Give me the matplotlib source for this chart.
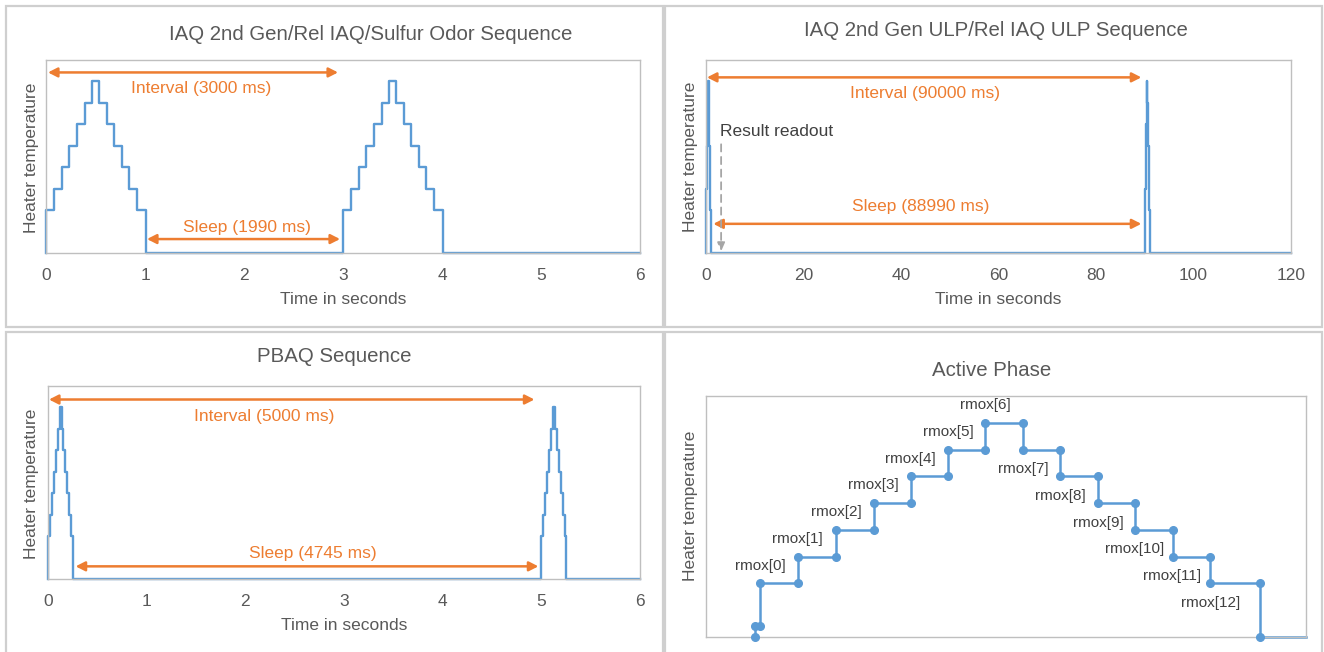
import matplotlib
matplotlib.use('Agg')
import matplotlib.pyplot as plt
from matplotlib.patches import Rectangle

plt.rcParams['font.family'] = ['Liberation Sans', 'DejaVu Sans']

# ---------------- data ----------------
seq_levels = [2, 3, 4, 5, 6, 7, 8, 7, 6, 5, 4, 3, 2]

iaq_edges_s = [0.0, 0.08, 0.16, 0.235, 0.31, 0.39, 0.465, 0.54, 0.615, 0.69, 0.77, 0.84, 0.915, 1.01]
iaq_cycle_starts_s = [0, 3]
iaq_xmax = 6
iaq_xticks = [0, 1, 2, 3, 4, 5, 6]

ulp_cycle_starts_s = [0, 90]
ulp_xmax = 120
ulp_xticks = [0, 20, 40, 60, 80, 100, 120]

pbaq_edges_s = [0.0, 0.02, 0.039, 0.059, 0.078, 0.098, 0.118, 0.137, 0.157, 0.176, 0.196, 0.216, 0.235, 0.255]
pbaq_cycle_starts_s = [0, 5]
pbaq_xmax = 6
pbaq_xticks = [0, 1, 2, 3, 4, 5, 6]

active_ramp_x = [13.2, 14.5]
active_ramp_level = 0.42
active_edges = [14.5, 24.5, 34.7, 44.7, 54.6, 64.6, 74.5, 84.5, 94.5, 104.5, 114.4, 124.4, 134.5, 147.6]
active_xmax = 160
rmox_labels = ['rmox[%d]' % i for i in range(13)]

titles = ['IAQ 2nd Gen/Rel IAQ/Sulfur Odor Sequence', 'IAQ 2nd Gen ULP/Rel IAQ ULP Sequence',
          'PBAQ Sequence', 'Active Phase']

BLUE = '#5B9BD5'
ORANGE = '#ED7D31'
TXT = '#595959'
BOX = '#BFBFBF'
PANEL = '#CFCFCF'

W, H = 1324, 652
fig = plt.figure(figsize=(W / 100, H / 100), dpi=100)


def ax_at(x0, y0, x1, y1):
    return fig.add_axes([x0 / W, 1 - y1 / H, (x1 - x0) / W, (y1 - y0) / H])


def panel(x0, y0, x1, y1):
    fig.add_artist(Rectangle((x0 / W, 1 - y1 / H), (x1 - x0) / W, (y1 - y0) / H,
                             transform=fig.transFigure, fill=False, ec=PANEL, lw=1.6))


def ftext(x, y, s, **kw):
    kw.setdefault('color', TXT)
    kw.setdefault('ha', 'center')
    kw.setdefault('va', 'center')
    fig.text(x / W, 1 - y / H, s, **kw)


def trace(edges, starts, xmax):
    xs, ys = [], []
    for t0 in starts:
        xs.append(t0 + edges[0]); ys.append(0)
        for i, lv in enumerate(seq_levels):
            xs += [t0 + edges[i], t0 + edges[i + 1]]
            ys += [lv, lv]
        xs.append(t0 + edges[-1]); ys.append(0)
    xs.append(xmax); ys.append(0)
    return xs, ys


def style(ax, xmax, xticks):
    ax.set_xlim(0, xmax)
    ax.set_ylim(0, 9)
    ax.set_yticks([])
    if xticks is None:
        ax.set_xticks([])
    else:
        ax.set_xticks(xticks)
        ax.tick_params(axis='x', length=0, pad=10.5, labelsize=12.5, labelcolor=TXT)
    for s in ax.spines.values():
        s.set_color(BOX)
        s.set_linewidth(1.0)


def darrow(ax, x0, x1, y):
    ax.annotate('', xy=(x1, y), xytext=(x0, y),
                arrowprops=dict(arrowstyle='<|-|>,head_length=0.55,head_width=0.28',
                                color=ORANGE, lw=1.8, shrinkA=0, shrinkB=0))


# panel frames
panel(6, 6, 663, 327)
panel(665, 6, 1322, 327)
panel(6, 332, 663, 670)
panel(665, 332, 1322, 670)

# ---------- panel 1 ----------
ax1 = ax_at(46, 60, 640, 253)
x, y = trace(iaq_edges_s, iaq_cycle_starts_s, iaq_xmax)
ax1.plot(x, y, color=BLUE, lw=1.7, clip_on=False)
style(ax1, iaq_xmax, iaq_xticks)
darrow(ax1, 0.02, 2.95, 8.42)
darrow(ax1, 1.02, 2.97, 0.65)
ax1.text(1.57, 7.68, 'Interval (3000 ms)', color=ORANGE, fontsize=12.5, ha='center', va='center')
ax1.text(2.03, 1.19, 'Sleep (1990 ms)', color=ORANGE, fontsize=12.5, ha='center', va='center')
ftext(371, 35, titles[0], fontsize=14.7)
ftext(343, 299, 'Time in seconds', fontsize=12.5)
ftext(32, 158, 'Heater temperature', fontsize=12.5, rotation=90)

# ---------- panel 2 ----------
ax2 = ax_at(706, 60, 1291, 253)
x, y = trace(iaq_edges_s, ulp_cycle_starts_s, ulp_xmax)
ax2.plot(x, y, color=BLUE, lw=1.7, clip_on=False)
style(ax2, ulp_xmax, ulp_xticks)
darrow(ax2, 0.2, 89.3, 8.19)
darrow(ax2, 1.5, 89.3, 1.36)
ax2.text(45, 7.45, 'Interval (90000 ms)', color=ORANGE, fontsize=12.5, ha='center', va='center')
ax2.text(44, 2.16, 'Sleep (88990 ms)', color=ORANGE, fontsize=12.5, ha='center', va='center')
ax2.text(2.8, 5.67, 'Result readout', color='#404040', fontsize=12.5, ha='left', va='center')
ax2.annotate('', xy=(3.1, 0.08), xytext=(3.1, 5.07),
             arrowprops=dict(arrowstyle='-|>,head_length=0.5,head_width=0.22', color='#A6A6A6',
                             lw=1.3, ls=(0, (4, 3)), shrinkA=0, shrinkB=0))
ftext(996, 30, titles[1], fontsize=14.7)
ftext(998, 299, 'Time in seconds', fontsize=12.5)
ftext(691, 157, 'Heater temperature', fontsize=12.5, rotation=90)

# ---------- panel 3 ----------
ax3 = ax_at(48, 386, 640, 579)
x, y = trace(pbaq_edges_s, pbaq_cycle_starts_s, pbaq_xmax)
ax3.plot(x, y, color=BLUE, lw=1.7, clip_on=False)
style(ax3, pbaq_xmax, pbaq_xticks)
darrow(ax3, 0.01, 4.93, 8.37)
darrow(ax3, 0.28, 4.97, 0.59)
ax3.text(2.19, 7.58, 'Interval (5000 ms)', color=ORANGE, fontsize=12.5, ha='center', va='center')
ax3.text(2.68, 1.21, 'Sleep (4745 ms)', color=ORANGE, fontsize=12.5, ha='center', va='center')
ftext(334, 356, titles[2], fontsize=14.7)
ftext(344, 626, 'Time in seconds', fontsize=12.5)
ftext(32, 484, 'Heater temperature', fontsize=12.5, rotation=90)

# ---------- panel 4 ----------
ax4 = ax_at(706, 396, 1306, 637)
px = [active_ramp_x[0], active_ramp_x[0], active_ramp_x[1]]
py = [0, active_ramp_level, active_ramp_level]
for i, lv in enumerate(seq_levels):
    px += [active_edges[i], active_edges[i + 1]]
    py += [lv, lv]
px.append(active_edges[-1]); py.append(0)
ax4.plot(px + [active_xmax], py + [0], color=BLUE, lw=1.8, clip_on=False)
ax4.plot(px, py, ls='none', marker='o', ms=5.5, color=BLUE, clip_on=False, zorder=3)
for i, lab in enumerate(rmox_labels):
    if seq_levels[i] >= (seq_levels[i - 1] if i > 0 else 0):
        ty = seq_levels[i] + 0.66
    else:
        ty = seq_levels[i] - 0.73
    ax4.text(active_edges[i], ty, lab, color='#404040', fontsize=11, ha='center', va='center')
style(ax4, active_xmax, None)
ftext(992, 370, titles[3], fontsize=14.7)
ftext(691, 506, 'Heater temperature', fontsize=12.5, rotation=90)

fig.savefig('out.png', dpi=100)
